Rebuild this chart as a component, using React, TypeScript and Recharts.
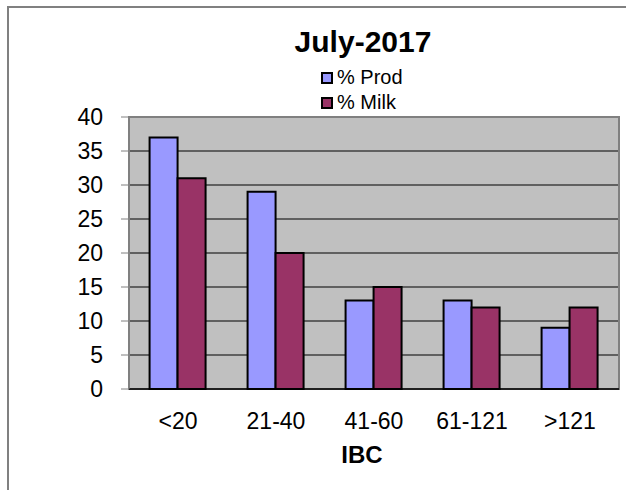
import { BarChart, Bar, XAxis, YAxis, CartesianGrid, ReferenceArea, ReferenceLine } from 'recharts';

const categories = ['<20', '21-40', '41-60', '61-121', '>121'];
const prodValues = [37, 29, 13, 13, 9];
const milkValues = [31, 20, 15, 12, 12];
const yTicks = [0, 5, 10, 15, 20, 25, 30, 35, 40];
const edgeTicks = [0, 1, 2, 3, 4, 5];

const data = categories.map((name, i) => ({ name, prod: prodValues[i], milk: milkValues[i] }));

const font = '"Liberation Sans", Arial, sans-serif';

const legendItems = [
    { label: '% Prod', color: '#9999FF' },
    { label: '% Milk', color: '#993366' },
];

function LegendBox() {
    return (
        <div style={{ fontFamily: font, fontSize: 20, color: '#000' }}>
            {legendItems.map((item) => (
                <div key={item.label} style={{ display: 'flex', alignItems: 'center', height: 25 }}>
                    <svg width={16} height={12} style={{ display: 'block' }}>
                        <rect x={1} y={1} width={10} height={10} fill={item.color} stroke="#000" strokeWidth={2} />
                    </svg>
                    <span style={{ lineHeight: '25px' }}>{item.label}</span>
                </div>
            ))}
        </div>
    );
}

export default function App() {
    return (
        <div style={{ position: 'fixed', left: 0, top: 0, width: 626, height: 490, background: '#fff', overflow: 'hidden' }}>
            <div
                style={{
                    position: 'absolute',
                    left: 7,
                    top: 6,
                    width: 700,
                    height: 600,
                    border: '2px solid #808080',
                }}
            />
            <div
                style={{
                    position: 'absolute',
                    left: 213,
                    width: 300,
                    top: 27,
                    textAlign: 'center',
                    fontFamily: font,
                    fontWeight: 'bold',
                    fontSize: 30,
                    lineHeight: '30px',
                }}
            >
                July-2017
            </div>
            <div style={{ position: 'absolute', left: 321, top: 65 }}>
                <LegendBox />
            </div>
            <div
                style={{
                    position: 'absolute',
                    left: 262,
                    width: 200,
                    top: 443,
                    textAlign: 'center',
                    fontFamily: font,
                    fontWeight: 'bold',
                    fontSize: 24,
                    lineHeight: '24px',
                }}
            >
                IBC
            </div>
            <div style={{ position: 'absolute', left: 0, top: 0 }}>
                <BarChart
                    width={626}
                    height={490}
                    data={data}
                    margin={{ top: 117, right: 7, left: 69, bottom: 61 }}
                    barCategoryGap="21%"
                    barGap={0}
                >
                    <CartesianGrid horizontal vertical={false} stroke="#000" strokeOpacity={1} fill="#C0C0C0" fillOpacity={1} />
                    <ReferenceArea y1={0} y2={40} fill="none" stroke="#808080" strokeWidth={2} ifOverflow="visible" />
                    <ReferenceLine y={0} stroke="#000" strokeWidth={1} />
                    <XAxis
                        xAxisId="edges"
                        type="number"
                        domain={[0, 5]}
                        ticks={edgeTicks}
                        tick={false}
                        axisLine={false}
                        tickLine={{ stroke: '#808080' }}
                        tickSize={8}
                        height={0}
                        allowDataOverflow
                    />
                    <XAxis
                        dataKey="name"
                        tick={{ fill: '#000', fontSize: 23, fontFamily: font }}
                        tickLine={false}
                        axisLine={{ stroke: '#000' }}
                        tickSize={8}
                        tickMargin={16}
                        height={40}
                        interval={0}
                    />
                    <YAxis
                        domain={[0, 40]}
                        ticks={yTicks}
                        width={60}
                        tick={{ fill: '#000', fontSize: 23, fontFamily: font }}
                        tickLine={{ stroke: '#808080' }}
                        axisLine={{ stroke: '#808080' }}
                        tickSize={8}
                        tickMargin={18}
                        interval={0}
                    />
                    <Bar dataKey="prod" name="% Prod" fill="#9999FF" stroke="#000" strokeWidth={2} isAnimationActive={false} />
                    <Bar dataKey="milk" name="% Milk" fill="#993366" stroke="#000" strokeWidth={2} isAnimationActive={false} />
                </BarChart>
            </div>
        </div>
    );
}
